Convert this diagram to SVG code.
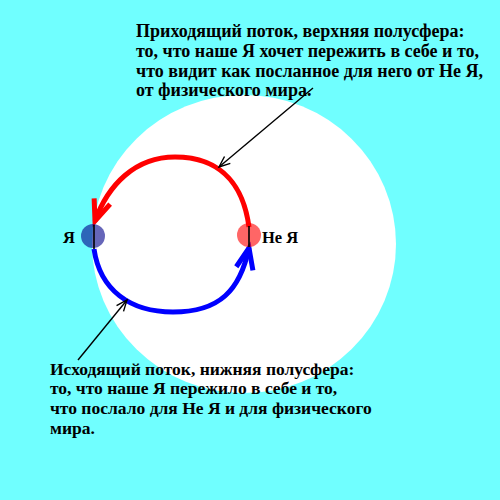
<svg xmlns="http://www.w3.org/2000/svg" width="500" height="500" viewBox="0 0 500 500">
<defs>
<style>
.t{font-family:"Liberation Serif","Times New Roman",serif;font-weight:bold;font-size:18px;fill:#000}
.tb{font-family:"Liberation Serif","Times New Roman",serif;font-weight:bold;font-size:17.5px;fill:#000}
.lbl{font-family:"Liberation Serif","Times New Roman",serif;font-weight:bold;font-size:16.5px;fill:#000}
.flow{fill:none;stroke-width:5;stroke-linecap:butt}
.ptr{fill:none;stroke:#000;stroke-width:1.4}
.axis{stroke:#000;stroke-width:1.6}
</style>
<marker id="ahRed" markerUnits="userSpaceOnUse" markerWidth="30" markerHeight="30" refX="0" refY="0" viewBox="-25 -15 30 30" orient="auto" overflow="visible">
<path d="M-21,-8.5 L0,0 L-21,8.5" fill="none" stroke="#ff0000" stroke-width="5"/>
</marker>
<marker id="ahBlue" markerUnits="userSpaceOnUse" markerWidth="30" markerHeight="30" refX="0" refY="0" viewBox="-25 -15 30 30" orient="auto" overflow="visible">
<path d="M-21,-8.5 L0,0 L-21,8.5" fill="none" stroke="#0000ff" stroke-width="5"/>
</marker>
<marker id="ahBlack" markerUnits="userSpaceOnUse" markerWidth="20" markerHeight="20" refX="0" refY="0" viewBox="-15 -10 20 20" orient="auto" overflow="visible">
<path d="M-11,-4.5 L0,0 L-11,4.5" fill="none" stroke="#000" stroke-width="1.4"/>
</marker>
</defs>
<rect x="0" y="0" width="500" height="500" fill="#70ffff"/>
<ellipse cx="244" cy="244" rx="152" ry="149" fill="#ffffff"/>
<g id="connectors">
<path class="flow" stroke="#ff0000" d="M249,227 C244,190 225,157 175,157 C135,157 108,185 95,221" marker-end="url(#ahRed)"/>
<path class="flow" stroke="#0000ff" d="M94,249 C100,290 130,312 173,312 C220,312 240,290 249,248" marker-end="url(#ahBlue)"/>
<path class="ptr" d="M313,88 L219,167" marker-end="url(#ahBlack)"/>
<path class="ptr" d="M78,360 L127,300" marker-end="url(#ahBlack)"/>
</g>
<g id="node-ya">
<circle cx="93" cy="236" r="12" fill="#00008b" fill-opacity="0.6"/>
<line class="axis" x1="94" y1="225" x2="94" y2="249"/>
<text class="lbl" x="63" y="243">Я</text>
</g>
<g id="node-ne-ya">
<circle cx="249" cy="235" r="12" fill="#ff0000" fill-opacity="0.6"/>
<line class="axis" x1="249" y1="226" x2="249" y2="247"/>
<text class="lbl" x="262" y="243">Не Я</text>
</g>
<g id="text-top">
<text class="t" x="136" y="37">Приходящий поток, верхняя полусфера:</text>
<text class="t" x="136" y="57">то, что наше Я хочет пережить в себе и то,</text>
<text class="t" x="136" y="76.5">что видит как посланное для него от Не Я,</text>
<text class="t" x="136" y="96">от физического мира.</text>
</g>
<g id="text-bottom">
<text class="tb" x="50" y="374.5">Исходящий поток, нижняя полусфера:</text>
<text class="tb" x="50" y="394">то, что наше Я пережило в себе и то,</text>
<text class="tb" x="50" y="414">что послало для Не Я и для физического</text>
<text class="tb" x="50" y="433.5">мира.</text>
</g>
</svg>
